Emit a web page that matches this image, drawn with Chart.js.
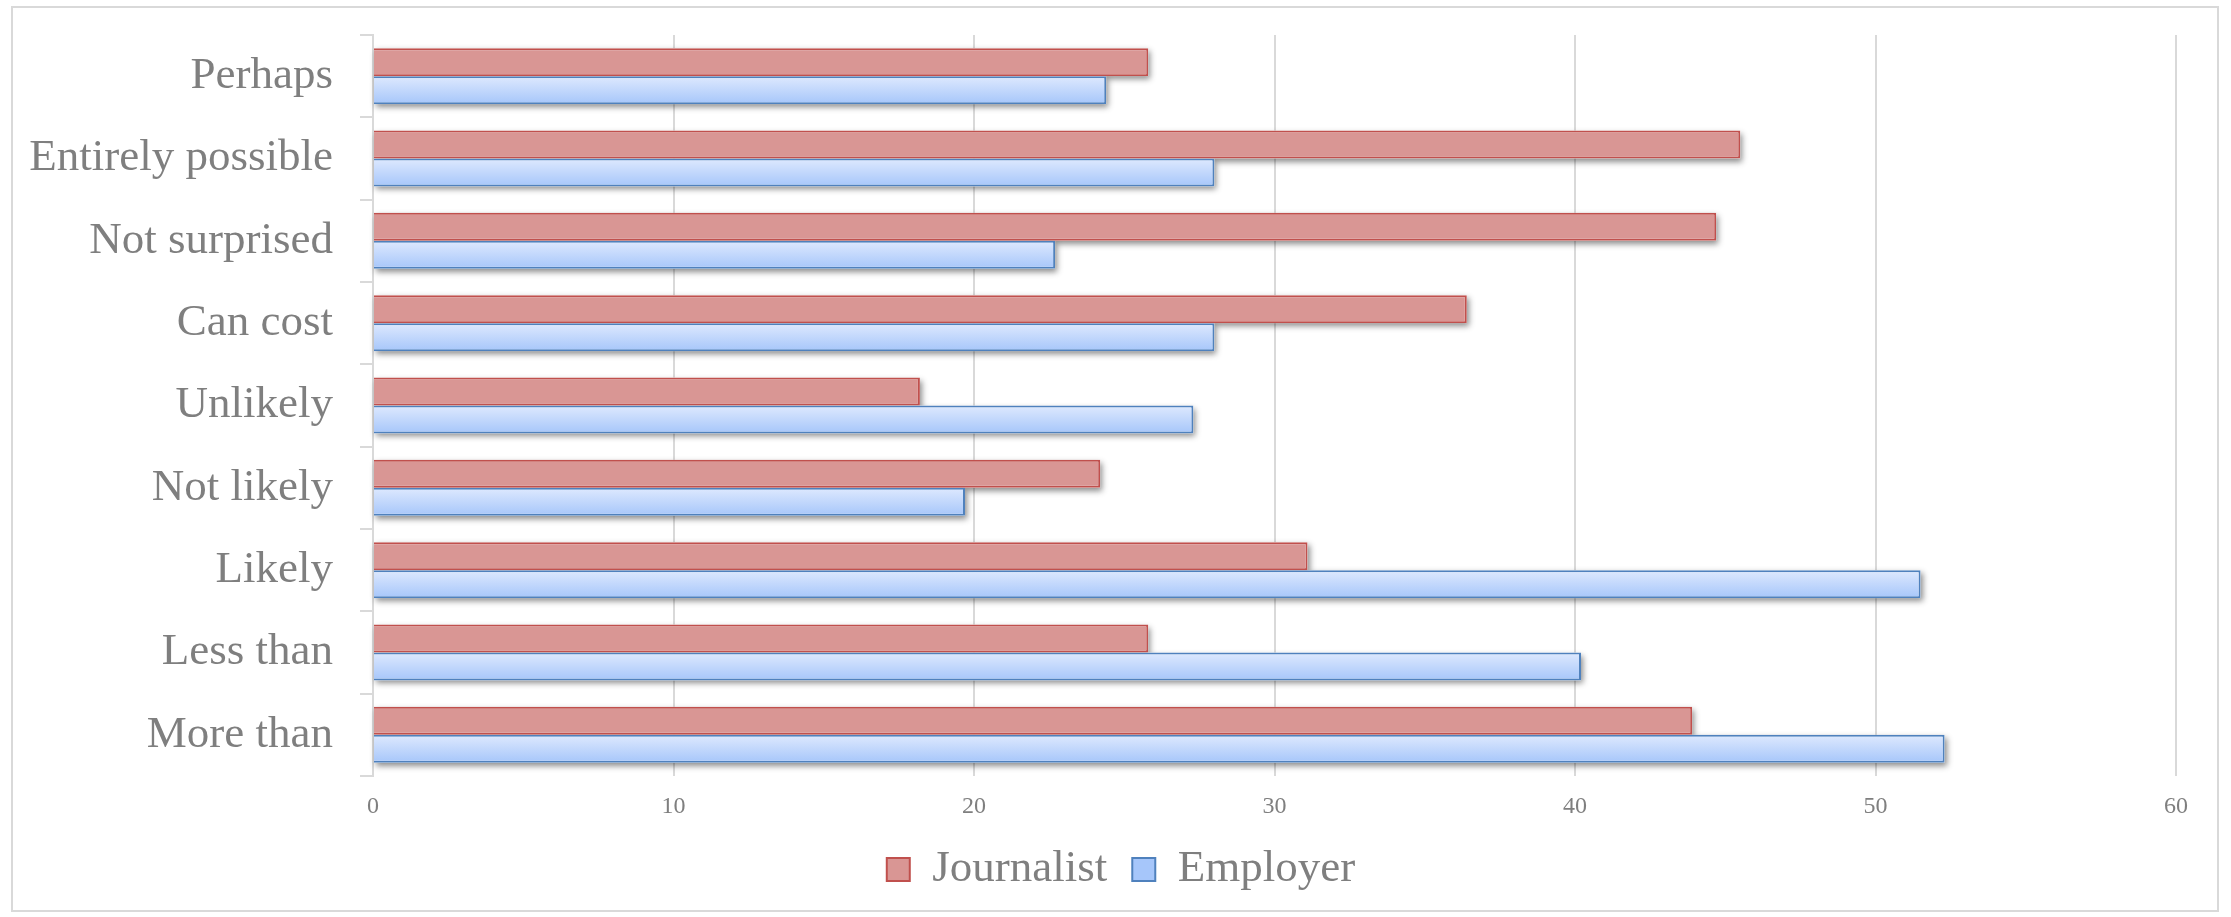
<!DOCTYPE html>
<html>
<head>
<meta charset="utf-8">
<script src="https://cdn.jsdelivr.net/npm/chart.js@4"></script>
<style>
  html, body { margin: 0; padding: 0; background: #ffffff; }
  #wrap { width: 2231px; height: 917px; }
</style>
</head>
<body>
<div id="wrap"><canvas id="answersBarChart" width="2231" height="917"></canvas></div>
<script>
var categories = ["Perhaps", "Entirely possible", "Not surprised", "Can cost", "Unlikely", "Not likely", "Likely", "Less than", "More than"];
var journalistValues = [25.8, 45.5, 44.7, 36.4, 18.2, 24.2, 31.1, 25.8, 43.9];
var employerValues = [24.4, 28.0, 22.7, 28.0, 27.3, 19.7, 51.5, 40.2, 52.3];
var valueTicks = [0, 10, 20, 30, 40, 50, 60];

var catPercent = 0.68;
var grey = "#7f7f7f";
var lineGrey = "#d9d9d9";

Chart.defaults.font.family = "'Liberation Serif', 'Times New Roman', serif";
Chart.defaults.color = grey;

// blue bars get a vertical gradient, positioned from the category scale
function employerFill(c) {
  var chart = c.chart;
  var y = chart.scales.y;
  var fallback = "#c3d8fc";
  if (!y || c.type !== "data") return fallback;
  var catH = (y.bottom - y.top) / categories.length;
  var yc = y.getPixelForValue(c.dataIndex);
  if (!isFinite(yc) || !isFinite(catH) || catH <= 0) return fallback;
  var g = chart.ctx.createLinearGradient(0, yc, 0, yc + catH * catPercent / 2);
  g.addColorStop(0, "#dee9fe");
  g.addColorStop(1, "#a6c6fa");
  return g;
}

var frame = {
  id: "frame",
  beforeDraw: function (chart) {
    var ctx = chart.ctx;
    ctx.save();
    ctx.fillStyle = "#ffffff";
    ctx.fillRect(0, 0, chart.width, chart.height);
    ctx.strokeStyle = lineGrey;
    ctx.lineWidth = 2;
    ctx.strokeRect(12, 7, chart.width - 25, chart.height - 13);
    ctx.restore();
  }
};

var barShadow = {
  id: "barShadow",
  beforeDatasetsDraw: function (chart) {
    var ctx = chart.ctx;
    chart.data.datasets.forEach(function (ds, i) {
      chart.getDatasetMeta(i).data.forEach(function (bar) {
        var p = bar.getProps(["x", "y", "base", "height"], true);
        ctx.save();
        ctx.shadowColor = "rgba(0,0,0,0.45)";
        ctx.shadowBlur = 6;
        ctx.shadowOffsetX = 2;
        ctx.shadowOffsetY = 3;
        ctx.fillStyle = "#ffffff";
        ctx.fillRect(p.base, p.y - p.height / 2, p.x - p.base, p.height);
        ctx.restore();
      });
    });
  }
};

new Chart(document.getElementById("answersBarChart"), {
  type: "bar",
  data: {
    labels: categories,
    datasets: [
      {
        label: "Journalist",
        data: journalistValues,
        backgroundColor: "#d99694",
        borderColor: "#c0504d",
        borderWidth: 2,
        categoryPercentage: catPercent,
        barPercentage: 1
      },
      {
        label: "Employer",
        data: employerValues,
        backgroundColor: employerFill,
        borderColor: "#4f81bd",
        borderWidth: 2,
        categoryPercentage: catPercent,
        barPercentage: 1
      }
    ]
  },
  options: {
    indexAxis: "y",
    responsive: false,
    animation: false,
    layout: { padding: { left: 20, right: 9, top: 35, bottom: 15 } },
    plugins: {
      tooltip: { enabled: false },
      legend: {
        position: "bottom",
        labels: {
          boxWidth: 23,
          boxHeight: 23,
          padding: 25,
          color: grey,
          font: { size: 45 }
        }
      }
    },
    scales: {
      x: {
        min: 0,
        max: 60,
        afterBuildTicks: function (s) {
          s.ticks = valueTicks.map(function (v) { return { value: v }; });
        },
        border: { display: false },
        grid: { color: lineGrey, lineWidth: 2, drawTicks: false },
        ticks: { color: grey, font: { size: 24 }, padding: 16 },
        afterFit: function (s) { s.height = 46; }
      },
      y: {
        border: { display: true, color: lineGrey, width: 2 },
        grid: { drawOnChartArea: false, drawTicks: true, tickLength: 13, color: lineGrey, lineWidth: 2 },
        ticks: { color: grey, font: { size: 45 }, padding: 27 },
        afterFit: function (s) {
          s.width = 353;
          s.paddingTop = 0;
          s.paddingBottom = 0;
        }
      },
      yRight: {
        type: "category",
        position: "right",
        grid: { display: false },
        border: { display: false },
        ticks: { display: false },
        afterFit: function (s) {
          s.width = 46;
          s.paddingTop = 0;
          s.paddingBottom = 0;
        }
      }
    }
  },
  plugins: [frame, barShadow]
});
</script>
</body>
</html>
